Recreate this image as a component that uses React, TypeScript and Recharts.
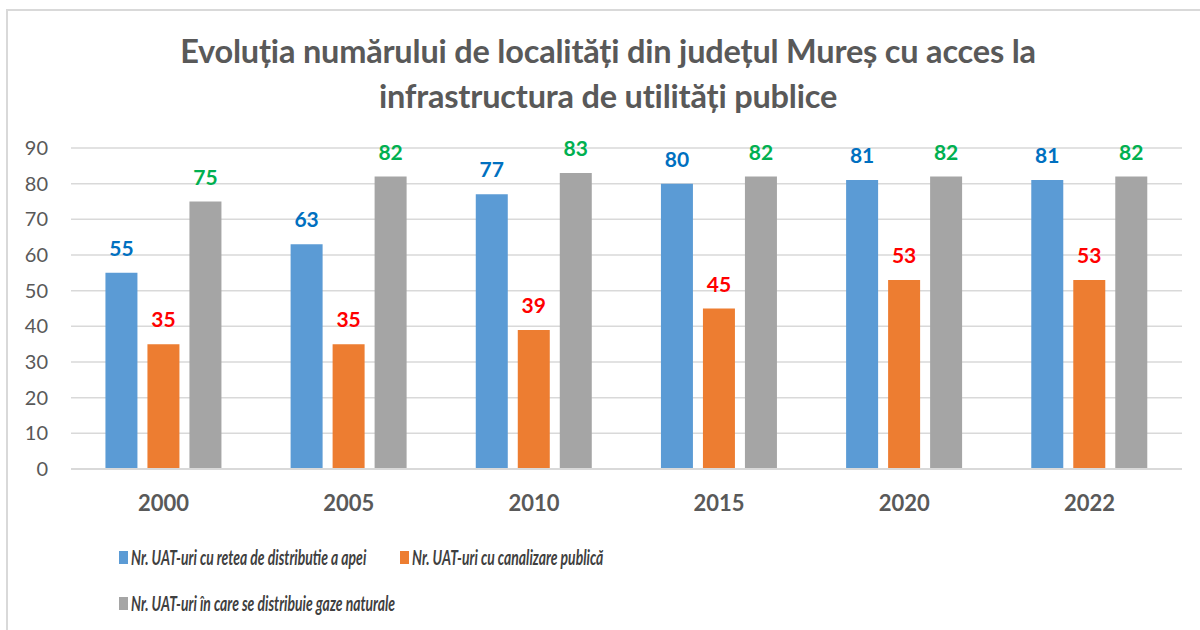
import { BarChart, Bar, XAxis, YAxis, CartesianGrid, LabelList } from "recharts";

const YEARS = ["2000", "2005", "2010", "2015", "2020", "2022"];
const WATER = [55, 63, 77, 80, 81, 81];
const SEWER = [35, 35, 39, 45, 53, 53];
const GAS = [75, 82, 83, 82, 82, 82];
const Y_TICKS = [0, 10, 20, 30, 40, 50, 60, 70, 80, 90];

const SERIES = [
  { key: "water", name: "Nr. UAT-uri cu retea de distributie a apei", fill: "#5B9BD5", label: "#0070C0" },
  { key: "sewer", name: "Nr. UAT-uri cu canalizare publică", fill: "#ED7D31", label: "#FF0000" },
  { key: "gas", name: "Nr. UAT-uri în care se distribuie gaze naturale", fill: "#A5A5A5", label: "#00B050" },
];

const FONT = "Lato, 'Open Sans', sans-serif";

export default function App() {
  const data = YEARS.map((y, i) => ({ year: y, water: WATER[i], sewer: SEWER[i], gas: GAS[i] }));

  return (
    <div style={{ position: "absolute", left: 0, top: 0, width: 1200, height: 630, background: "#fff", overflow: "hidden", fontFamily: FONT }}>
      <div style={{ position: "absolute", left: 6, top: 9, width: 1200, height: 640, border: "2px solid #d9d9d9", boxSizing: "border-box" }} />
      <div style={{ position: "absolute", left: 0, top: 28, width: 1216, textAlign: "center", color: "#595959", fontSize: 32.5, fontWeight: 700, lineHeight: "45px", letterSpacing: -0.2 }}>
        Evoluția numărului de localități din județul Mureș cu acces la
        <br />
        infrastructura de utilități publice
      </div>
      <div style={{ position: "absolute", left: 0, top: 0 }}>
        <BarChart width={1200} height={630} data={data} margin={{ top: 148, right: 18, left: 0, bottom: 131 }} barGap={10} barCategoryGap="18.6%">
          <CartesianGrid vertical={false} stroke="#d9d9d9" strokeWidth={1.5} />
          <XAxis dataKey="year" height={30} axisLine={{ stroke: "#d9d9d9", strokeWidth: 2 }} tickLine={false} tickMargin={20}
            tick={{ fontSize: 22, fontWeight: 700, fill: "#595959", fontFamily: FONT }} />
          <YAxis width={71} domain={[0, 90]} ticks={Y_TICKS} axisLine={false} tickLine={false} tickMargin={17}
            tick={{ fontSize: 20, fill: "#595959", fontFamily: FONT }} />
          {SERIES.map((s) => (
            <Bar key={s.key} dataKey={s.key} name={s.name} fill={s.fill} isAnimationActive={false}>
              <LabelList dataKey={s.key} position="top" offset={17} fill={s.label} fontSize={21} fontWeight={700} fontFamily={FONT} />
            </Bar>
          ))}
        </BarChart>
      </div>
      {SERIES.map((s, i) => (
        <div key={s.key} style={{
          position: "absolute", left: i === 1 ? 400 : 119, top: i === 2 ? 591 : 545,
          display: "flex", alignItems: "center", whiteSpace: "nowrap",
        }}>
          <span style={{ width: 9, height: 13, background: s.fill, marginRight: 3, display: "inline-block" }} />
          <span style={{
            display: "inline-block", fontSize: 20.5, fontWeight: 700, fontStyle: "italic", color: "#404040",
            transform: "scaleX(0.68)", transformOrigin: "left center",
          }}>
            {s.name}
          </span>
        </div>
      ))}
    </div>
  );
}
